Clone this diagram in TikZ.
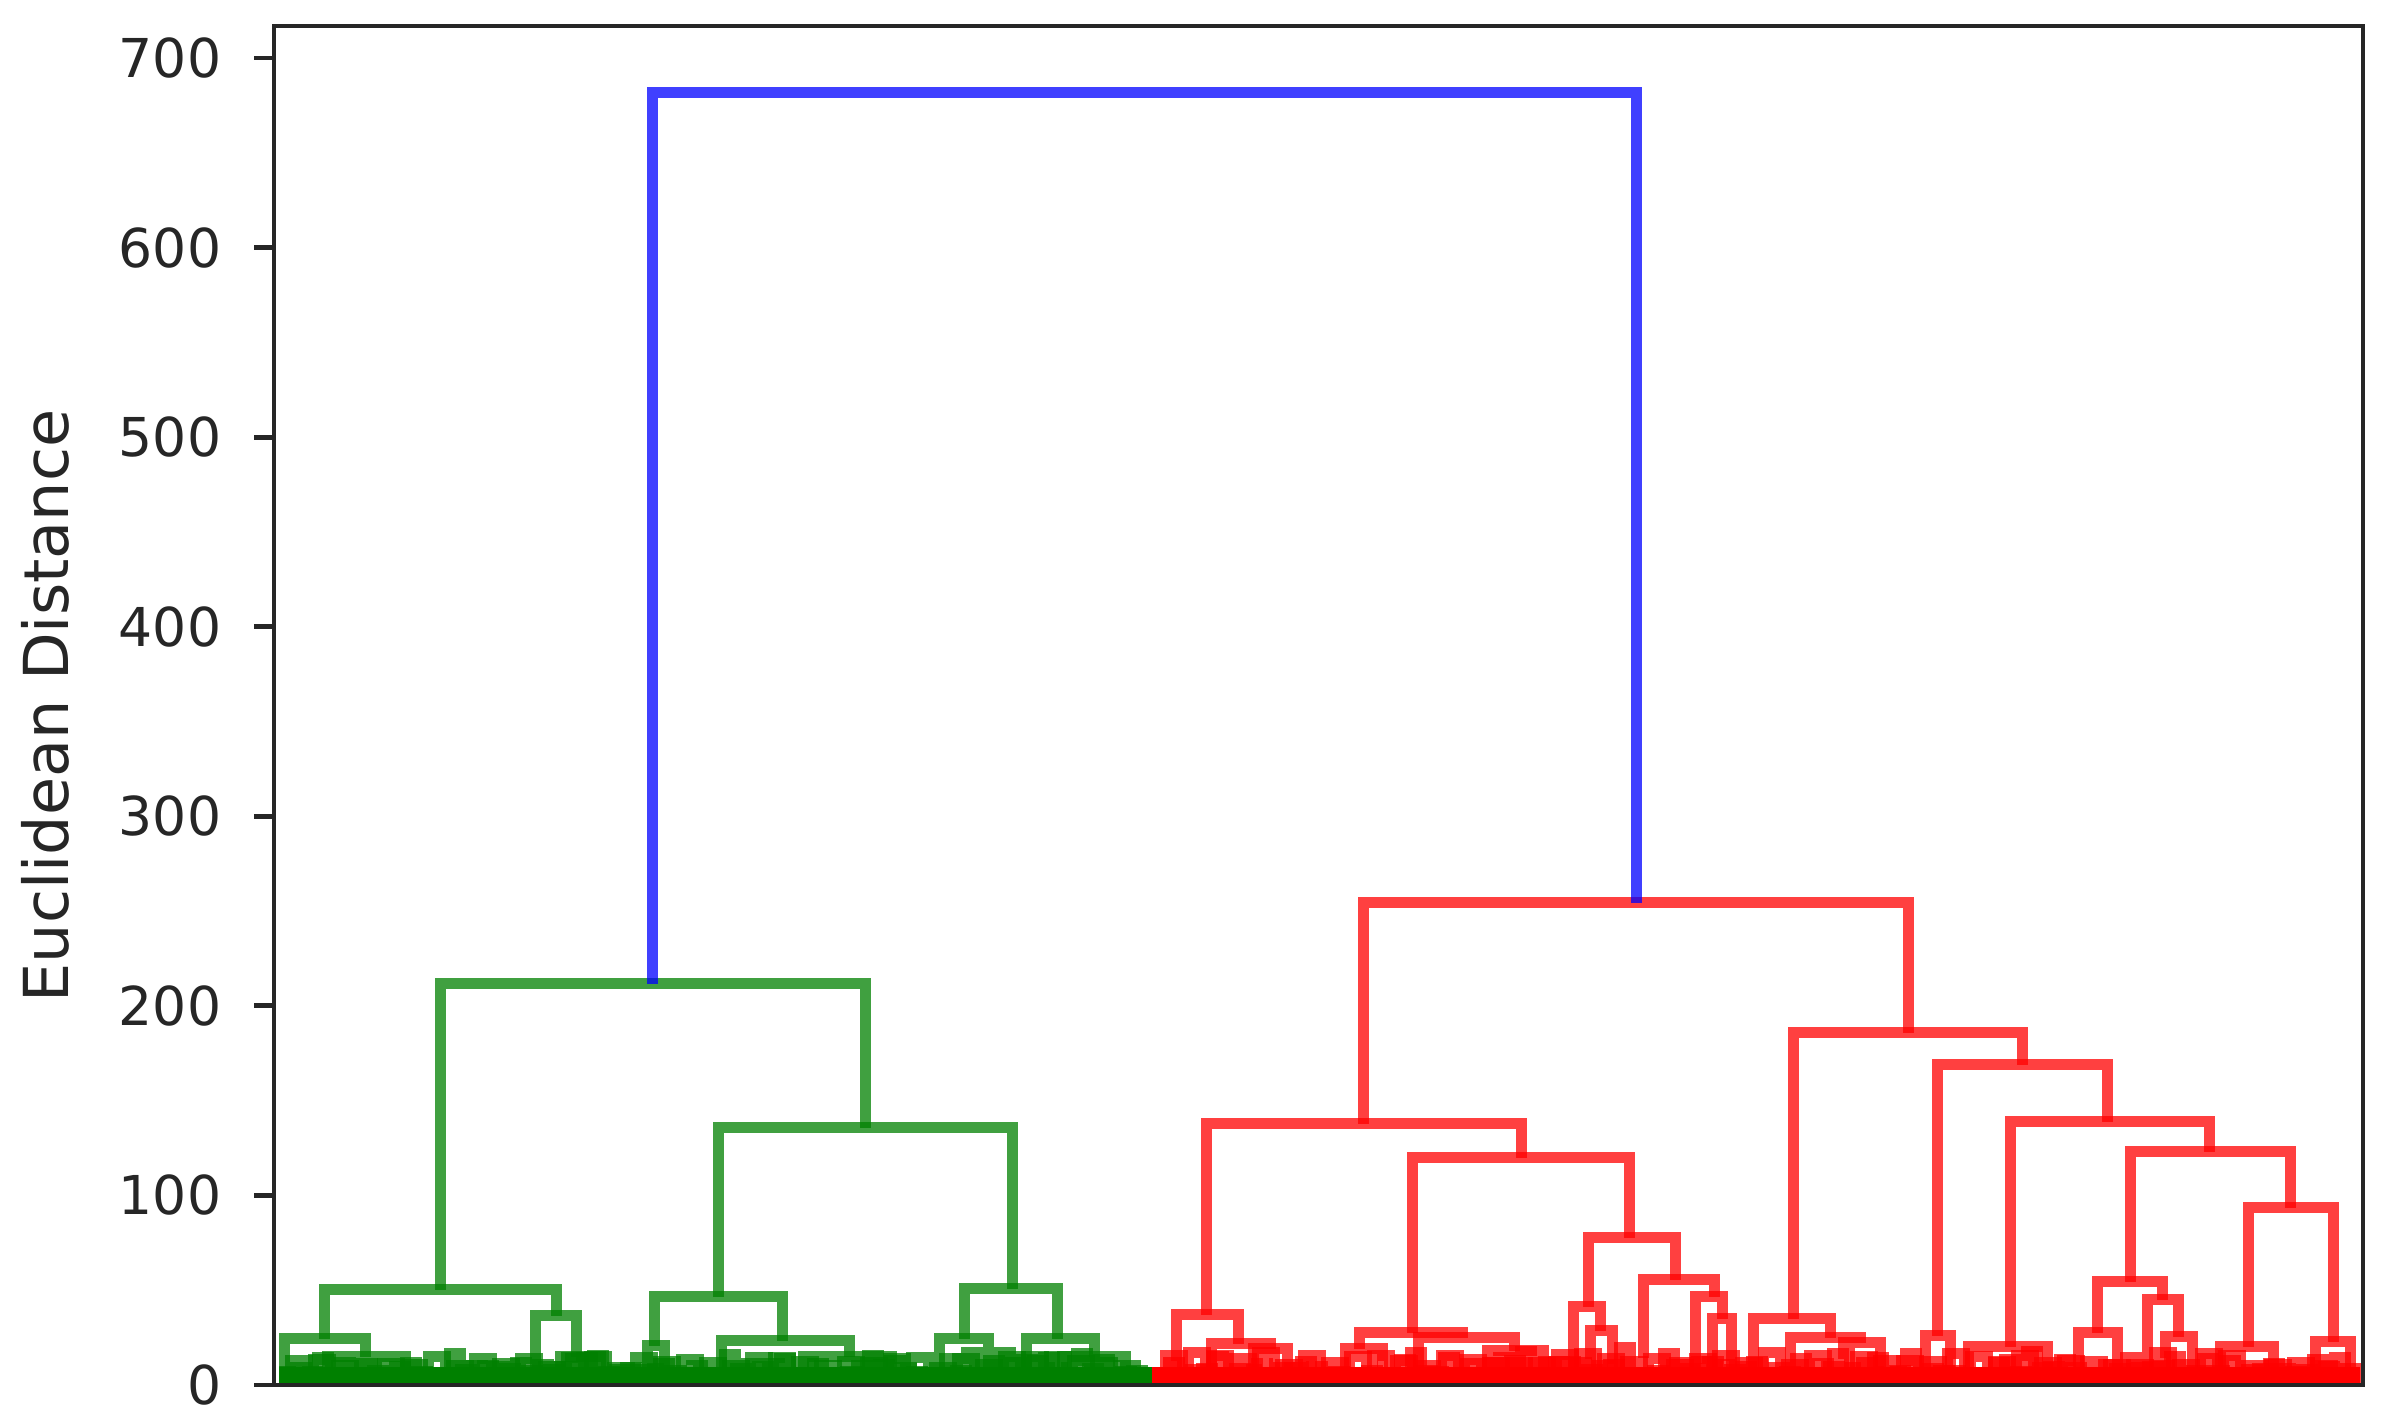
\documentclass[tikz,border=0pt]{standalone}
\usepackage{fontspec}
\setmainfont{DejaVu Sans}
\definecolor{gg}{RGB}{0,128,0}
\definecolor{rr}{RGB}{255,0,0}
\definecolor{bb}{RGB}{0,0,255}
\definecolor{ax}{RGB}{38,38,38}
\begin{document}
\begin{tikzpicture}[x=0.25pt,y=-0.25pt,
  lk/.style={line width=2.75pt, draw opacity=0.75, line join=miter},
  gl/.style={lk, draw=gg}, rl/.style={lk, draw=rr}, bl/.style={lk, draw=bb},
  axtick/.style={line width=1.2pt, draw=ax},
  tlab/.style={font=\fontsize{13.4}{15}\selectfont, text=ax, anchor=east, inner sep=0pt}]
\useasboundingbox (0,0) rectangle (2387,1419);

% ---- solid base of the leaves
\fill[gg] (279,1367) rectangle (1152,1385);
\fill[rr] (1152,1367) rectangle (2360,1385);

% ---- random low-level texture
\pgfmathsetseed{4711}
\foreach \x in {284,295,...,1140} {
  \pgfmathsetmacro{\h}{1374-26*rnd*rnd}
  \draw[gl] (\x,1385) |- ({\x+11},\h) -- ({\x+11},1385);
}
\foreach \x in {1157,1168,...,2345} {
  \pgfmathsetmacro{\h}{1374-28*rnd*rnd}
  \draw[rl] (\x,1385) |- ({\x+11},\h) -- ({\x+11},1385);
}
\foreach \x in {290,313,...,1120} {
  \pgfmathsetmacro{\h}{1368-12*rnd}
  \draw[gl] (\x,1385) |- ({\x+17},\h) -- ({\x+17},1385);
}
\foreach \x in {1165,1188,...,2330} {
  \pgfmathsetmacro{\h}{1366-14*rnd}
  \draw[rl] (\x,1385) |- ({\x+17},\h) -- ({\x+17},1385);
}

% ---- green cluster
\draw[gl] (440,1290) |- (865,984) -- (865,1128);
\draw[gl] (324,1339) |- (556,1290) -- (556,1316);
\draw[gl] (284,1378) |- (365,1339) -- (365,1357);
\draw[gl] (327,1378) |- (405,1357) -- (405,1378);
\draw[gl] (535,1378) |- (576,1316) -- (576,1357);
\draw[gl] (560,1378) |- (600,1357) -- (600,1378);
\draw[gl] (718,1297) |- (1012,1128) -- (1012,1289);
\draw[gl] (654,1346) |- (782,1297) -- (782,1341);
\draw[gl] (647,1378) |- (664,1346) -- (664,1378);
\draw[gl] (721,1378) |- (849,1341) -- (849,1357);
\draw[gl] (803,1378) |- (891,1357) -- (891,1378);
\draw[gl] (964,1339) |- (1057,1289) -- (1057,1339);
\draw[gl] (939,1378) |- (988,1339) -- (988,1378);
\draw[gl] (1026,1378) |- (1094,1339) -- (1094,1357);
\draw[gl] (1062,1378) |- (1125,1357) -- (1125,1378);

% ---- red cluster
\draw[rl] (1363,1124) |- (1908,903) -- (1908,1033);
\draw[rl] (1206,1315) |- (1521,1124) -- (1521,1158);
\draw[rl] (1176,1378) |- (1238,1315) -- (1238,1344);
\draw[rl] (1211,1378) |- (1270,1344) -- (1270,1349);
\draw[rl] (1253,1378) |- (1287,1349) -- (1287,1378);
\draw[rl] (1412,1333) |- (1629,1158) -- (1629,1238);
\draw[rl] (1359,1349) |- (1462,1333) -- (1462,1338);
\draw[rl] (1345,1378) |- (1382,1349) -- (1382,1378);
\draw[rl] (1418,1378) |- (1514,1338) -- (1514,1351);
\draw[rl] (1487,1378) |- (1543,1351) -- (1543,1378);
\draw[rl] (1588,1307) |- (1675,1238) -- (1675,1280);
\draw[rl] (1573,1378) |- (1600,1307) -- (1600,1331);
\draw[rl] (1590,1378) |- (1612,1331) -- (1612,1378);
\draw[rl] (1643,1358) |- (1714,1280) -- (1714,1297);
\draw[rl] (1695,1378) |- (1722,1297) -- (1722,1319);
\draw[rl] (1712,1378) |- (1731,1319) -- (1731,1378);
\draw[rl] (1793,1319) |- (2022,1033) -- (2022,1065);
\draw[rl] (1753,1378) |- (1830,1319) -- (1830,1338);
\draw[rl] (1790,1378) |- (1860,1338) -- (1860,1343);
\draw[rl] (1843,1378) |- (1880,1343) -- (1880,1378);
\draw[rl] (1937,1336) |- (2107,1065) -- (2107,1122);
\draw[rl] (1925,1378) |- (1950,1336) -- (1950,1378);
\draw[rl] (2010,1347) |- (2209,1122) -- (2209,1152);
\draw[rl] (1968,1378) |- (2047,1347) -- (2047,1378);
\draw[rl] (2130,1282) |- (2290,1152) -- (2290,1208);
\draw[rl] (2097,1333) |- (2162,1282) -- (2162,1300);
\draw[rl] (2078,1378) |- (2117,1333) -- (2117,1378);
\draw[rl] (2147,1378) |- (2178,1300) -- (2178,1337);
\draw[rl] (2165,1378) |- (2192,1337) -- (2192,1378);
\draw[rl] (2248,1347) |- (2333,1208) -- (2333,1342);
\draw[rl] (2220,1378) |- (2273,1347) -- (2273,1378);
\draw[rl] (2315,1378) |- (2350,1342) -- (2350,1378);

% ---- top link
\draw[bl] (652,984) |- (1636,93) -- (1636,903);

% ---- axes frame and ticks
\draw[line width=1.2pt, draw=ax] (274,26) rectangle (2363,1385);
\foreach \v/\nm in {0/t0,100/t1,200/t2,300/t3,400/t4,500/t5,600/t6,700/t7} {
  \pgfmathsetmacro{\yy}{1385-1.8957*\v}
  \draw[axtick] (254,\yy) -- (274,\yy);
  \node[tlab] (\nm) at (222,\yy) {\v};
}
\node[rotate=90, inner sep=0pt, text=ax, font=\fontsize{15.5}{18}\selectfont] (ylab) at (45,706) {Euclidean Distance};
\end{tikzpicture}
\end{document}
